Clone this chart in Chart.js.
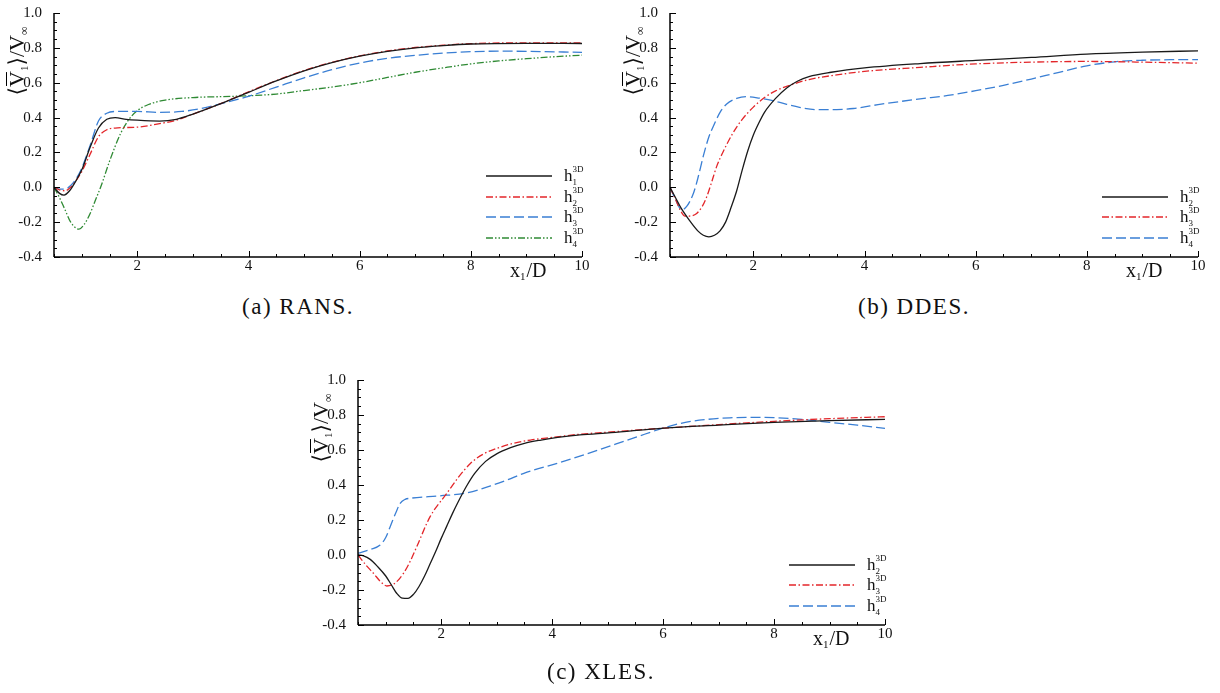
<!DOCTYPE html>
<html>
<head>
<meta charset="utf-8">
<script src="https://cdn.jsdelivr.net/npm/chart.js@4.4.1/dist/chart.umd.min.js"></script>
<style>
  body { margin: 0; background: #fff; }
  #page { position: relative; width: 1220px; height: 693px; overflow: hidden; }
  canvas { position: absolute; }
  .cap { position: absolute; font-family: 'Liberation Serif', serif; font-size: 23px; line-height: 23px;
         letter-spacing: 1.5px; color: #111; white-space: nowrap; transform: translateX(-50%); }
</style>
</head>
<body>
<div id="page">
  <canvas id="cA" width="610" height="290" style="left:0;top:0"></canvas>
  <canvas id="cB" width="610" height="290" style="left:610px;top:0"></canvas>
  <canvas id="cC" width="610" height="300" style="left:300px;top:360px"></canvas>
  <div class="cap" style="left:298px;top:295px">(a) RANS.</div>
  <div class="cap" style="left:914px;top:295px">(b) DDES.</div>
  <div class="cap" style="left:601px;top:660px">(c) XLES.</div>
</div>
<script>
// axis ticks (shared by all three panels)
const xTicks = [2, 4, 6, 8, 10];
const yTicks = [-0.4, -0.2, 0.0, 0.2, 0.4, 0.6, 0.8, 1.0];

// (a) RANS
const ransH1x = [0.5, 0.6, 0.68, 0.78, 0.9, 1.0, 1.15, 1.3, 1.45, 1.6, 1.8, 2.0, 2.4, 2.7, 3.0, 3.5, 4.0, 4.5, 5.0, 5.5, 6.0, 6.5, 7.0, 7.5, 8.0, 9.0, 10];
const ransH1y = [0, -0.035, -0.045, -0.02, 0.04, 0.1, 0.23, 0.34, 0.39, 0.4, 0.39, 0.385, 0.38, 0.39, 0.42, 0.48, 0.545, 0.61, 0.668, 0.715, 0.752, 0.78, 0.8, 0.813, 0.822, 0.826, 0.825];
const ransH2x = [0.5, 0.6, 0.7, 0.8, 0.9, 1.0, 1.15, 1.3, 1.45, 1.6, 2.0, 2.4, 2.7, 3.0, 3.5, 4.0, 4.5, 5.0, 5.5, 6.0, 6.5, 7.0, 7.5, 8.0, 9.0, 10];
const ransH2y = [0, -0.015, -0.02, 0.0, 0.04, 0.09, 0.19, 0.29, 0.33, 0.34, 0.345, 0.365, 0.385, 0.42, 0.48, 0.548, 0.612, 0.67, 0.717, 0.754, 0.782, 0.802, 0.815, 0.824, 0.829, 0.829];
const ransH3x = [0.5, 0.6, 0.7, 0.8, 0.9, 1.0, 1.15, 1.3, 1.45, 1.6, 2.0, 2.4, 2.8, 3.2, 3.6, 4.0, 4.5, 5.0, 5.5, 6.0, 6.5, 7.0, 7.5, 8.0, 8.5, 9.0, 10];
const ransH3y = [0, -0.01, -0.01, 0.01, 0.05, 0.11, 0.24, 0.38, 0.425, 0.435, 0.435, 0.43, 0.435, 0.455, 0.488, 0.522, 0.575, 0.628, 0.675, 0.713, 0.74, 0.757, 0.77, 0.778, 0.781, 0.78, 0.774];
const ransH4x = [0.5, 0.6, 0.7, 0.8, 0.9, 0.95, 1.05, 1.15, 1.25, 1.35, 1.5, 1.7, 1.85, 2.0, 2.2, 2.5, 3.0, 3.5, 4.0, 4.5, 5.0, 5.5, 6.0, 6.5, 7.0, 7.5, 8.0, 8.5, 9.0, 9.5, 10];
const ransH4y = [0, -0.06, -0.13, -0.2, -0.235, -0.24, -0.21, -0.15, -0.07, 0.01, 0.15, 0.31, 0.39, 0.44, 0.475, 0.5, 0.515, 0.52, 0.525, 0.535, 0.555, 0.575, 0.6, 0.63, 0.66, 0.685, 0.708, 0.725, 0.738, 0.749, 0.758];

// (b) DDES
const ddesH2x = [0.5, 0.6, 0.7, 0.85, 1.0, 1.1, 1.2, 1.3, 1.4, 1.5, 1.6, 1.7, 1.8, 1.9, 2.0, 2.1, 2.2, 2.4, 2.6, 2.8, 3.0, 3.4, 4.0, 5.0, 6.0, 7.0, 8.0, 9.0, 10];
const ddesH2y = [0, -0.06, -0.12, -0.19, -0.25, -0.275, -0.284, -0.275, -0.25, -0.2, -0.115, -0.02, 0.1, 0.21, 0.3, 0.37, 0.43, 0.51, 0.57, 0.61, 0.635, 0.66, 0.685, 0.71, 0.728, 0.745, 0.764, 0.775, 0.783];
const ddesH3x = [0.5, 0.6, 0.7, 0.77, 0.85, 0.98, 1.08, 1.16, 1.25, 1.34, 1.45, 1.63, 1.8, 2.0, 2.2, 2.4, 2.7, 3.0, 3.5, 4.0, 5.0, 6.0, 7.0, 8.0, 9.0, 10];
const ddesH3y = [0, -0.07, -0.14, -0.165, -0.165, -0.15, -0.11, -0.055, 0.03, 0.12, 0.2, 0.31, 0.39, 0.46, 0.515, 0.553, 0.59, 0.618, 0.645, 0.665, 0.688, 0.708, 0.718, 0.722, 0.718, 0.712];
const ddesH4x = [0.5, 0.6, 0.71, 0.8, 0.92, 1.0, 1.1, 1.2, 1.28, 1.4, 1.52, 1.7, 1.87, 2.1, 2.35, 2.6, 2.83, 3.13, 3.5, 3.8, 4.3, 5.0, 5.5, 6.0, 6.5, 7.0, 7.5, 8.0, 8.5, 9.0, 9.5, 10];
const ddesH4y = [0, -0.07, -0.13, -0.11, -0.036, 0.05, 0.18, 0.29, 0.35, 0.43, 0.478, 0.51, 0.52, 0.512, 0.497, 0.476, 0.459, 0.446, 0.446, 0.452, 0.477, 0.507, 0.527, 0.554, 0.585, 0.621, 0.66, 0.697, 0.72, 0.729, 0.732, 0.733];

// (c) XLES
const xlesH2x = [0.5, 0.6, 0.72, 0.85, 1.0, 1.1, 1.2, 1.3, 1.4, 1.5, 1.6, 1.7, 1.8, 1.9, 2.0, 2.1, 2.2, 2.3, 2.45, 2.6, 2.8, 3.0, 3.25, 3.5, 3.8, 4.1, 4.5, 5.06, 6.02, 7.0, 8.0, 9.0, 10];
const xlesH2y = [0, -0.005, -0.025, -0.065, -0.12, -0.17, -0.22, -0.247, -0.248, -0.225, -0.18, -0.12, -0.05, 0.02, 0.095, 0.165, 0.235, 0.3, 0.39, 0.465, 0.535, 0.578, 0.613, 0.638, 0.657, 0.672, 0.686, 0.699, 0.725, 0.742, 0.758, 0.768, 0.775];
const xlesH3x = [0.5, 0.65, 0.78, 0.9, 1.02, 1.15, 1.32, 1.45, 1.56, 1.8, 2.1, 2.3, 2.53, 2.75, 3.01, 3.3, 3.61, 4.0, 4.5, 5.06, 6.02, 7.0, 8.0, 9.0, 10];
const xlesH3y = [0, -0.06, -0.105, -0.15, -0.177, -0.165, -0.105, -0.03, 0.048, 0.219, 0.352, 0.44, 0.524, 0.575, 0.61, 0.638, 0.657, 0.672, 0.69, 0.703, 0.725, 0.745, 0.764, 0.779, 0.79];
const xlesH4x = [0.5, 0.72, 0.9, 1.0, 1.08, 1.18, 1.26, 1.35, 1.44, 1.98, 2.47, 2.89, 3.2, 3.49, 4.09, 4.5, 5.06, 5.5, 6.02, 6.4, 6.8, 7.2, 7.6, 8.0, 8.5, 9.0, 9.5, 10];
const xlesH4y = [0.01, 0.032, 0.057, 0.1, 0.162, 0.24, 0.295, 0.318, 0.324, 0.338, 0.355, 0.395, 0.43, 0.467, 0.524, 0.565, 0.625, 0.672, 0.727, 0.758, 0.775, 0.784, 0.787, 0.785, 0.775, 0.758, 0.742, 0.724];

const BLACK = '#1a1a1a', RED = '#e3262a', BLUE = '#3a7fd4', GREEN = '#2f8a34';
const SOLID = [], DASHDOT = [7, 2.5, 1.5, 2.5], DASHED = [10, 4], DASHDOTDOT = [7, 2, 1.5, 2, 1.5, 2];
const SERIF = "'Liberation Serif', 'DejaVu Serif', serif";

function series(xs, ys, sub, color, dash) {
  return {
    label: sub,
    data: xs.map((x, i) => ({ x: x, y: ys[i] })),
    borderColor: color,
    borderDash: dash,
    borderWidth: 1.3,
    pointRadius: 0,
    fill: false,
    cubicInterpolationMode: 'monotone'
  };
}

// axes, inward ticks, axis titles and legend
const decor = {
  id: 'decor',
  afterDraw(chart) {
    const { ctx, chartArea: a, scales } = chart;
    const sx = scales.x, sy = scales.y;
    ctx.save();
    ctx.strokeStyle = '#000';
    ctx.lineWidth = 1;
    ctx.setLineDash([]);
    const seg = (x1, y1, x2, y2) => { ctx.beginPath(); ctx.moveTo(x1, y1); ctx.lineTo(x2, y2); ctx.stroke(); };

    // tick marks pointing into the plot
    for (let k = 0; k <= 19; k++) {
      const v = 0.5 + k * 0.5;
      const px = Math.round(sx.getPixelForValue(v)) + 0.5;
      seg(px, a.bottom, px, a.bottom - (xTicks.includes(v) ? 6 : 3));
    }
    for (let k = 0; k <= 28; k++) {
      const v = -0.4 + k * 0.05;
      const py = Math.round(sy.getPixelForValue(v)) + 0.5;
      seg(a.left, py, a.left + (k % 4 === 0 ? 6 : 3), py);
    }
    ctx.lineWidth = 1.5;
    seg(a.left, a.top, a.left, a.bottom);
    seg(a.left, a.bottom, a.right, a.bottom);

    ctx.fillStyle = '#111';
    ctx.textBaseline = 'alphabetic';
    ctx.textAlign = 'left';

    // x title: x1/D
    let tx = a.right - 72, ty = a.bottom + 20;
    ctx.font = '20px ' + SERIF;
    ctx.fillText('x', tx, ty); tx += ctx.measureText('x').width;
    ctx.font = '11px ' + SERIF;
    ctx.fillText('1', tx, ty + 3); tx += ctx.measureText('1').width + 1;
    ctx.font = '20px ' + SERIF;
    ctx.fillText('/D', tx, ty);

    // y title: <V1>/Vinf, rotated
    ctx.save();
    ctx.translate(a.left - 30, a.top + 48);
    ctx.rotate(-Math.PI / 2);
    const parts = [['\u27E8', 22, 0], ['V', 22, 0, true], ['1', 11, 4], ['\u27E9/V', 22, 0], ['\u221E', 12, 4]];
    let total = 0;
    parts.forEach(p => { ctx.font = p[1] + 'px ' + SERIF; total += ctx.measureText(p[0]).width; });
    let u = -total / 2;
    parts.forEach(p => {
      ctx.font = p[1] + 'px ' + SERIF;
      const w = ctx.measureText(p[0]).width;
      ctx.fillText(p[0], u, p[2]);
      if (p[3]) { ctx.lineWidth = 1; seg(u + 1, -17.5, u + w - 1, -17.5); }
      u += w;
    });
    ctx.restore();

    // legend
    const ds = chart.data.datasets;
    ds.forEach((d, i) => {
      const ly = Math.round(a.bottom - 19 - (ds.length - 1 - i) * 20.7);
      ctx.strokeStyle = d.borderColor;
      ctx.lineWidth = 1.5;
      ctx.setLineDash(d.borderDash);
      seg(a.right - 96, ly, a.right - 30, ly);
      ctx.setLineDash([]);
      let lx = a.right - 18;
      ctx.font = '17px ' + SERIF;
      ctx.fillText('h', lx, ly + 5);
      lx += ctx.measureText('h').width;
      ctx.font = '9px ' + SERIF;
      ctx.fillText('3D', lx, ly - 4);
      ctx.fillText(d.label, lx, ly + 9);
    });
    ctx.restore();
  }
};

function makeChart(id, datasets, yW, pad) {
  return new Chart(document.getElementById(id), {
    type: 'line',
    data: { datasets: datasets },
    options: {
      responsive: false,
      animation: false,
      devicePixelRatio: 1,
      layout: { padding: pad },
      plugins: { legend: { display: false }, tooltip: { enabled: false } },
      scales: {
        x: {
          type: 'linear', min: 0.5, max: 10,
          grid: { display: false }, border: { display: false },
          afterBuildTicks: s => { s.ticks = xTicks.map(v => ({ value: v })); },
          afterFit: s => { s.height = 30; },
          ticks: { autoSkip: false, maxRotation: 0, padding: -8, color: '#111', font: { family: SERIF, size: 15 }, callback: v => String(v) }
        },
        y: {
          type: 'linear', min: -0.4, max: 1.0,
          grid: { display: false }, border: { display: false },
          afterBuildTicks: s => { s.ticks = yTicks.map(v => ({ value: v })); },
          afterFit: s => { s.width = yW; },
          ticks: { autoSkip: false, padding: 4, color: '#111', font: { family: SERIF, size: 15 }, callback: v => v.toFixed(1) }
        }
      }
    },
    plugins: [decor]
  });
}

makeChart('cA', [
  series(ransH1x, ransH1y, '1', BLACK, SOLID),
  series(ransH2x, ransH2y, '2', RED, DASHDOT),
  series(ransH3x, ransH3y, '3', BLUE, DASHED),
  series(ransH4x, ransH4y, '4', GREEN, DASHDOTDOT)
], 54, { left: 0, right: 28, top: 12, bottom: 3 });

makeChart('cB', [
  series(ddesH2x, ddesH2y, '2', BLACK, SOLID),
  series(ddesH3x, ddesH3y, '3', RED, DASHDOT),
  series(ddesH4x, ddesH4y, '4', BLUE, DASHED)
], 60, { left: 0, right: 22, top: 12, bottom: 3 });

makeChart('cC', [
  series(xlesH2x, xlesH2y, '2', BLACK, SOLID),
  series(xlesH3x, xlesH3y, '3', RED, DASHDOT),
  series(xlesH4x, xlesH4y, '4', BLUE, DASHED)
], 58, { left: 0, right: 25, top: 20, bottom: 5 });
</script>
</body>
</html>
